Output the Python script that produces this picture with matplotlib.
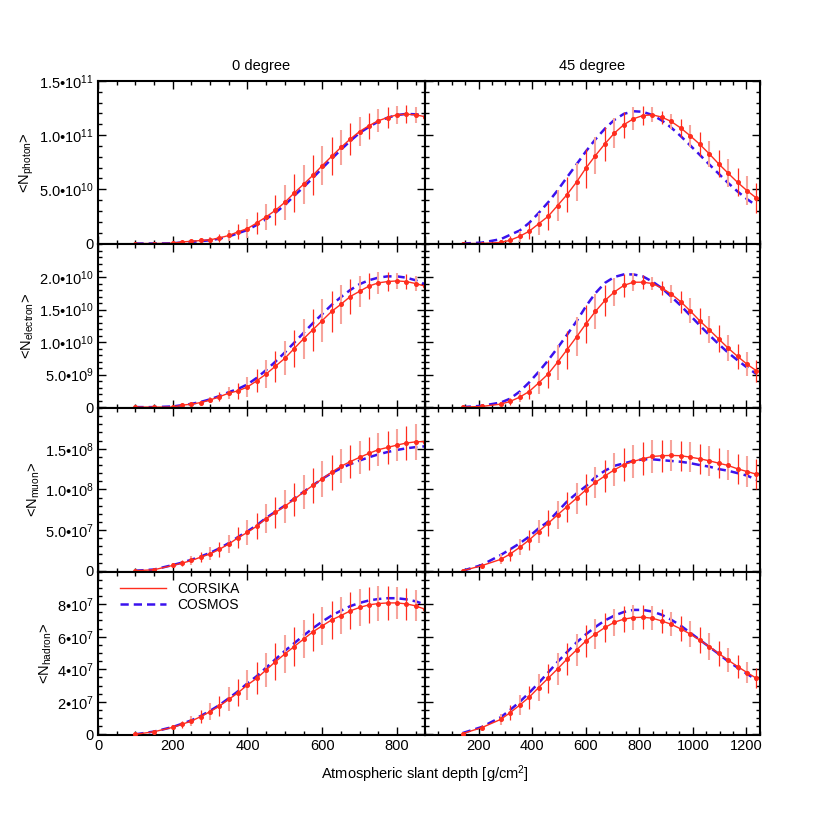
import numpy as np
import matplotlib.pyplot as plt
from matplotlib.lines import Line2D
from matplotlib.ticker import MultipleLocator, FixedLocator

plt.rcParams['font.family'] = ['Liberation Sans', 'DejaVu Sans']
plt.rcParams['mathtext.fontset'] = 'custom'
plt.rcParams['mathtext.rm'] = 'Liberation Sans'
plt.rcParams['mathtext.it'] = 'Liberation Sans:italic'
plt.rcParams['font.size'] = 9

# slant depth of the points [g/cm2]
depth_0 = [100, 150, 200, 225, 250, 275, 300, 325, 350, 375, 400, 425, 450, 475, 500,
           525, 550, 575, 600, 625, 650, 675, 700, 725, 750, 775, 800, 825, 850, 875]
depth_45 = [141, 212, 283, 318, 354, 389, 424, 460, 495, 530, 566, 601, 636, 672, 707,
            742, 778, 813, 849, 884, 919, 955, 990, 1025, 1061, 1096, 1131, 1167, 1202, 1237]

# photon (units 1e10)
photon_0_corsika = [0, 0, 0.02, 0.15, 0.2, 0.28, 0.34, 0.52, 0.74, 1.08, 1.38, 1.9, 2.46, 3.07, 3.8,
                    4.66, 5.46, 6.29, 7.18, 8.03, 8.86, 9.63, 10.33, 10.86, 11.32, 11.62, 11.87, 11.93, 11.87, 11.7]
photon_0_cosmos = [0, 0, 0.02, 0.1, 0.15, 0.22, 0.3, 0.45, 0.65, 0.95, 1.25, 1.72, 2.25, 2.85, 3.55,
                   4.4, 5.2, 6.05, 6.95, 7.8, 8.65, 9.45, 10.2, 10.75, 11.25, 11.6, 11.85, 11.95, 11.92, 11.8]
photon_0_err = [0, 0, 0.05, 0.1, 0.15, 0.2, 0.3, 0.4, 0.55, 0.7, 0.85, 1.0, 1.2, 1.4, 1.6,
                1.75, 1.8, 1.85, 1.8, 1.75, 1.65, 1.5, 1.35, 1.2, 1.05, 0.95, 0.85, 0.8, 0.75, 0.8]
photon_45_corsika = [0, 0, 0.1, 0.3, 0.67, 1.13, 1.81, 2.51, 3.5, 4.5, 5.67, 6.96, 8.1, 9.2, 10.18,
                     10.95, 11.5, 11.8, 11.87, 11.66, 11.26, 10.65, 9.94, 9.17, 8.28, 7.36, 6.5, 5.64, 4.88, 4.2]
photon_45_cosmos = [0, 0.08, 0.4, 0.8, 1.2, 1.9, 2.8, 3.8, 4.9, 6.1, 7.3, 8.5, 9.6, 10.6, 11.4,
                    11.95, 12.2, 12.15, 11.85, 11.35, 10.7, 9.9, 9.05, 8.2, 7.3, 6.45, 5.6, 4.8, 4.1, 3.5]
photon_45_err = [0, 0.05, 0.2, 0.35, 0.5, 0.75, 1.0, 1.25, 1.45, 1.6, 1.75, 1.8, 1.7, 1.55, 1.4,
                 1.2, 1.05, 0.85, 0.7, 0.6, 0.7, 0.85, 1.0, 1.1, 1.2, 1.25, 1.25, 1.3, 1.35, 1.4]

# electron (units 1e10)
electron_0_corsika = [0, 0, 0, 0.03, 0.046, 0.07, 0.11, 0.16, 0.215, 0.25, 0.31, 0.405, 0.51, 0.63, 0.75,
                      0.9, 1.05, 1.19, 1.33, 1.47, 1.58, 1.7, 1.78, 1.86, 1.91, 1.93, 1.94, 1.93, 1.9, 1.86]
electron_0_cosmos = [0, 0, 0.01, 0.03, 0.05, 0.08, 0.12, 0.17, 0.23, 0.28, 0.35, 0.45, 0.57, 0.7, 0.84,
                     0.99, 1.14, 1.29, 1.43, 1.57, 1.69, 1.8, 1.89, 1.95, 1.99, 2.01, 2.01, 1.99, 1.95, 1.89]
electron_0_err = [0, 0, 0.005, 0.01, 0.02, 0.03, 0.05, 0.07, 0.09, 0.12, 0.15, 0.18, 0.21, 0.24, 0.26,
                  0.29, 0.31, 0.32, 0.33, 0.32, 0.3, 0.27, 0.24, 0.2, 0.17, 0.14, 0.12, 0.11, 0.11, 0.12]
electron_45_corsika = [0, 0.01, 0.046, 0.087, 0.154, 0.24, 0.37, 0.51, 0.69, 0.88, 1.08, 1.28, 1.47, 1.64, 1.77,
                       1.87, 1.92, 1.92, 1.9, 1.83, 1.74, 1.62, 1.48, 1.33, 1.19, 1.05, 0.91, 0.78, 0.66, 0.56]
electron_45_cosmos = [0, 0.02, 0.07, 0.13, 0.24, 0.38, 0.54, 0.72, 0.91, 1.11, 1.32, 1.55, 1.75, 1.91, 2.0,
                      2.04, 2.04, 2.01, 1.93, 1.83, 1.7, 1.56, 1.41, 1.26, 1.11, 0.97, 0.84, 0.72, 0.61, 0.51]
electron_45_err = [0, 0.01, 0.03, 0.05, 0.08, 0.12, 0.17, 0.22, 0.27, 0.29, 0.3, 0.29, 0.27, 0.24, 0.21,
                   0.17, 0.14, 0.11, 0.1, 0.11, 0.14, 0.17, 0.19, 0.2, 0.21, 0.21, 0.2, 0.19, 0.18, 0.17]

# muon (units 1e7)
muon_0_corsika = [0, 0.12, 0.65, 0.93, 1.26, 1.67, 2.07, 2.64, 3.29, 4.06, 4.72, 5.49, 6.42, 7.16, 7.93,
                  8.78, 9.67, 10.49, 11.3, 12.11, 12.84, 13.41, 13.94, 14.43, 14.88, 15.16, 15.45, 15.7, 15.85, 15.89]
muon_0_cosmos = [0, 0.15, 0.7, 1.0, 1.35, 1.75, 2.2, 2.75, 3.4, 4.15, 4.85, 5.6, 6.5, 7.25, 8.0,
                 8.85, 9.7, 10.5, 11.3, 12.0, 12.6, 13.1, 13.55, 13.95, 14.3, 14.6, 14.85, 15.05, 15.2, 15.3]
muon_0_err = [0, 0.1, 0.3, 0.4, 0.5, 0.65, 0.8, 0.95, 1.1, 1.3, 1.5, 1.65, 1.8, 1.9, 2.0,
              2.05, 2.1, 2.15, 2.2, 2.15, 2.1, 2.05, 2.0, 2.0, 2.0, 2.0, 2.0, 2.1, 2.2, 2.3]
muon_45_corsika = [0, 0.62, 1.4, 2.05, 2.88, 3.78, 4.81, 5.83, 6.86, 7.89, 8.92, 9.95, 10.85, 11.67, 12.41,
                   13.03, 13.44, 13.77, 14.05, 14.14, 14.18, 14.14, 13.97, 13.77, 13.52, 13.23, 12.95, 12.53, 12.2, 11.87]
muon_45_cosmos = [0, 0.7, 1.93, 2.63, 3.37, 4.2, 5.2, 6.04, 7.27, 8.5, 9.5, 10.4, 11.5, 12.3, 12.9,
                  13.2, 13.5, 13.7, 13.7, 13.6, 13.5, 13.4, 13.23, 13.0, 12.8, 12.5, 12.3, 12.0, 11.7, 11.2]
muon_45_err = [0, 0.3, 0.6, 0.8, 1.0, 1.2, 1.4, 1.6, 1.75, 1.85, 1.9, 1.9, 1.95, 2.0, 2.05,
               2.05, 2.05, 2.0, 2.0, 1.95, 1.9, 1.85, 1.85, 1.85, 1.85, 1.85, 1.85, 1.85, 1.85, 1.85]

# hadron (units 1e7)
hadron_0_corsika = [0, 0.16, 0.43, 0.62, 0.82, 1.09, 1.4, 1.74, 2.15, 2.56, 3.04, 3.45, 3.96, 4.47, 4.94,
                    5.4, 5.85, 6.3, 6.67, 7.03, 7.3, 7.59, 7.8, 7.96, 8.04, 8.08, 8.08, 8.02, 7.9, 7.69]
hadron_0_cosmos = [0, 0.17, 0.45, 0.65, 0.86, 1.13, 1.45, 1.8, 2.22, 2.65, 3.14, 3.58, 4.1, 4.62, 5.13,
                   5.6, 6.07, 6.52, 6.93, 7.3, 7.6, 7.88, 8.08, 8.23, 8.32, 8.37, 8.37, 8.3, 8.18, 7.98]
hadron_0_err = [0.02, 0.08, 0.15, 0.22, 0.3, 0.4, 0.5, 0.62, 0.73, 0.83, 0.92, 1.0, 1.07, 1.12, 1.15,
                1.17, 1.18, 1.18, 1.17, 1.16, 1.15, 1.14, 1.12, 1.1, 1.07, 1.04, 1.0, 0.97, 0.95, 0.92]
hadron_45_corsika = [0.05, 0.41, 0.92, 1.33, 1.8, 2.28, 2.87, 3.45, 4.02, 4.62, 5.19, 5.74, 6.17, 6.57, 6.89,
                     7.08, 7.18, 7.2, 7.14, 6.97, 6.77, 6.48, 6.17, 5.8, 5.4, 4.98, 4.57, 4.17, 3.8, 3.45]
hadron_45_cosmos = [0.08, 0.45, 1.05, 1.5, 2.0, 2.55, 3.15, 3.8, 4.45, 5.05, 5.65, 6.15, 6.6, 7.0, 7.3,
                    7.52, 7.65, 7.65, 7.55, 7.35, 7.05, 6.68, 6.25, 5.82, 5.38, 4.95, 4.5, 4.1, 3.72, 3.35]
hadron_45_err = [0.05, 0.15, 0.35, 0.45, 0.6, 0.72, 0.82, 0.9, 0.97, 1.0, 1.0, 0.97, 0.92, 0.88, 0.84,
                 0.8, 0.77, 0.74, 0.72, 0.72, 0.74, 0.77, 0.8, 0.8, 0.8, 0.78, 0.74, 0.7, 0.65, 0.6]

row_names = ['photon', 'electron', 'muon', 'hadron']
row_units = [1e10, 1e10, 1e7, 1e7]
row_data = [
    [(photon_0_corsika, photon_0_cosmos, photon_0_err), (photon_45_corsika, photon_45_cosmos, photon_45_err)],
    [(electron_0_corsika, electron_0_cosmos, electron_0_err), (electron_45_corsika, electron_45_cosmos, electron_45_err)],
    [(muon_0_corsika, muon_0_cosmos, muon_0_err), (muon_45_corsika, muon_45_cosmos, muon_45_err)],
    [(hadron_0_corsika, hadron_0_cosmos, hadron_0_err), (hadron_45_corsika, hadron_45_cosmos, hadron_45_err)],
]
row_ymax = [1.5e11, 2.5e10, 2.0e8, 1.0e8]
row_minor = [1e10, 1e9, 1e7, 5e6]
row_ticks = [[0, 5e10, 1e11, 1.5e11], [0, 5e9, 1e10, 1.5e10, 2e10],
             [0, 5e7, 1e8, 1.5e8], [0, 2e7, 4e7, 6e7, 8e7]]
row_ticklabels = [
    ['0', '5.0•10$^{10}$', '1.0•10$^{11}$', '1.5•10$^{11}$'],
    ['0', '5.0•10$^{9}$', '1.0•10$^{10}$', '1.5•10$^{10}$', '2.0•10$^{10}$'],
    ['0', '5.0•10$^{7}$', '1.0•10$^{8}$', '1.5•10$^{8}$'],
    ['0', '2•10$^{7}$', '4•10$^{7}$', '6•10$^{7}$', '8•10$^{7}$'],
]
col_x = [depth_0, depth_45]
col_xmax = [875, 1250]
col_titles = ['0 degree', '45 degree']

red = '#ff2d1e'
pink = '#f7a49c'
blue = '#3a12ee'

fig = plt.figure(figsize=(8.17, 8.17), dpi=100)
gs = fig.add_gridspec(4, 2, left=0.12, right=0.930, top=0.901, bottom=0.100,
                      wspace=0, hspace=0, width_ratios=[327, 335])

for r in range(4):
    for c in range(2):
        ax = fig.add_subplot(gs[r, c])
        x = np.array(col_x[c])
        cors, cosm, err = row_data[r][c]
        u = row_units[r]
        cors = np.array(cors) * u
        cosm = np.array(cosm) * u
        err = np.array(err) * u

        ax.plot(x, cosm, color=blue, lw=1.8, dashes=(3.3, 2.0), zorder=2)
        for i in range(len(x)):
            if i % 2 == 0:
                ax.vlines(x[i], cors[i] - err[i], cors[i] + err[i], color=pink, lw=1.5, zorder=3)
            else:
                ax.vlines(x[i], cors[i] - err[i], cors[i] + err[i], color=red, lw=0.9, zorder=3)
        ax.plot(x, cors, color=red, lw=1.0, marker='o', ms=2.6, zorder=4)

        ymax = row_ymax[r]
        ax.set_xlim(0, col_xmax[c])
        ax.set_ylim(-0.006 * ymax, ymax)
        ax.xaxis.set_major_locator(MultipleLocator(200))
        ax.xaxis.set_minor_locator(MultipleLocator(50))
        ax.yaxis.set_major_locator(FixedLocator(row_ticks[r]))
        ax.yaxis.set_minor_locator(MultipleLocator(row_minor[r]))
        ax.tick_params(which='both', direction='in', top=True, right=True, width=1.0)
        ax.tick_params(which='major', length=6, labelsize=10.5, pad=3)
        ax.tick_params(which='minor', length=3)
        for s in ax.spines.values():
            s.set_linewidth(1.5)

        if c == 0:
            ax.set_yticklabels(row_ticklabels[r])
            ax.set_ylabel('<N$_\\mathregular{' + row_names[r] + '}$>', fontsize=10.5, labelpad=2)
        else:
            ax.set_yticklabels([])
        if r == 3:
            if c == 0:
                ax.set_xticks([0, 200, 400, 600, 800])
            else:
                ax.set_xticks([200, 400, 600, 800, 1000, 1200])
        else:
            ax.set_xticklabels([])
        if r == 0:
            ax.set_title(col_titles[c], fontsize=10.5, pad=8)
        if r == 3 and c == 0:
            handles = [Line2D([], [], color=red, lw=1.0),
                       Line2D([], [], color=blue, lw=1.8, dashes=(3.3, 2.0))]
            ax.legend(handles, ['CORSIKA', 'COSMOS'], loc='upper left', frameon=False,
                      bbox_to_anchor=(0.05, 0.97), handlelength=3.3, labelspacing=0.1,
                      handletextpad=0.8, fontsize=10, borderaxespad=0)

fig.text(0.52, 0.046, 'Atmospheric slant depth [g/cm$^2$]', ha='center', fontsize=10.5)

plt.savefig('out.png', dpi=100)
